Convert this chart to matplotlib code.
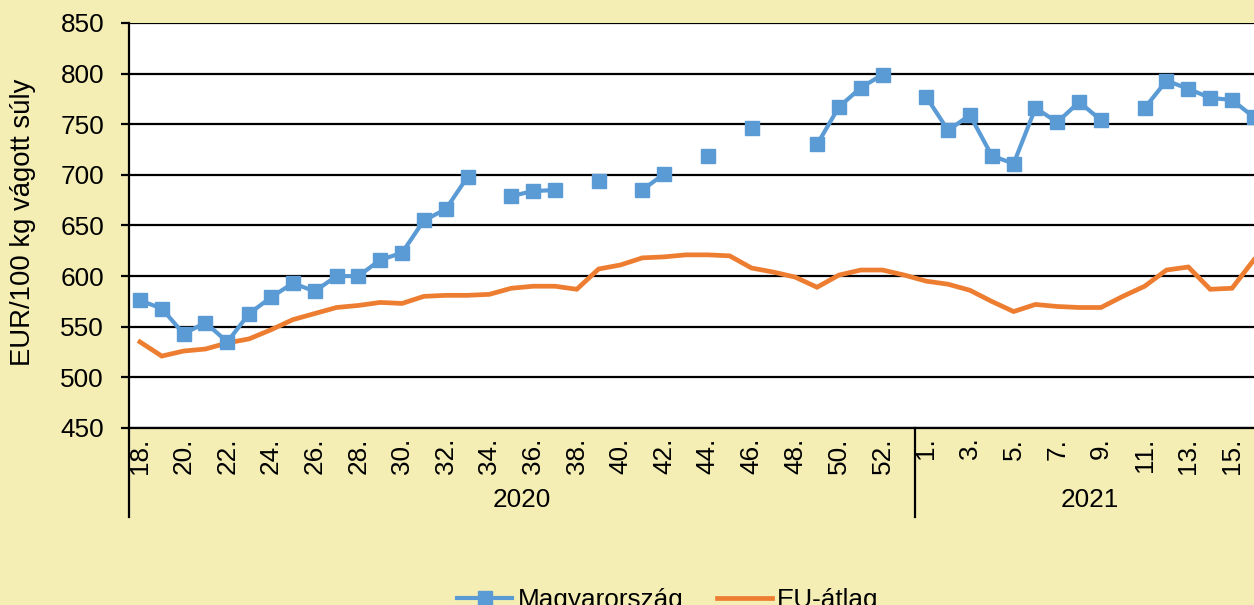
import numpy as np
import matplotlib
matplotlib.use("Agg")
import matplotlib.pyplot as plt
from matplotlib.lines import Line2D
import matplotlib.transforms as mtransforms

plt.rcParams['font.family'] = ['Liberation Sans', 'DejaVu Sans']

nan = np.nan

# Weeks shown on the category axis
weeks_2020 = list(range(18, 54))
weeks_2021 = list(range(1, 17))

# Hungarian pig price, EUR/100 kg carcass weight (gaps = no quotation)
hu_2020 = [576, 568, 543, 554, 535, 563, 579, 593, 585, 600, 600, 616, 623,
           655, 666, 698, nan, 679, 684, 685, nan, 694, nan, 685, 701, nan,
           719, nan, 746, nan, nan, 730, 767, 786, 799, nan]
hu_2021 = [777, 744, 759, 719, 711, 766, 752, 772, 754, nan, 766, 793, 785,
           776, 774, 757]

# EU average
eu_2020 = [535, 521, 526, 528, 534, 538, 547, 557, 563, 569, 571, 574, 573,
           580, 581, 581, 582, 588, 590, 590, 587, 607, 611, 618, 619, 621,
           621, 620, 608, 604, 599, 589, 601, 606, 606, 601]
eu_2021 = [595, 592, 586, 575, 565, 572, 570, 569, 569, 580, 590, 606, 609,
           587, 588, 616]

years = ["2020", "2021"]
series_names = ["Magyarország", "EU-átlag"]
y_label = "EUR/100 kg vágott súly"
y_ticks = [450, 500, 550, 600, 650, 700, 750, 800, 850]

bg = "#F4EEB4"
blue = "#5B9BD5"
orange = "#ED7D31"
fs = 18.8

hu = np.array(hu_2020 + hu_2021, dtype=float)
eu = np.array(eu_2020 + eu_2021, dtype=float)
n2020 = len(weeks_2020)
n = len(hu)
x = np.arange(n)

fig = plt.figure(figsize=(12.54, 6.05), dpi=100, facecolor=bg)
ax = fig.add_axes([0.1029, 0.2926, 0.9057, 0.6694])
ax.set_facecolor("white")

ax.set_ylim(450, 850)
ax.set_xlim(-0.5, n - 0.5)
ax.set_yticks(y_ticks)
ax.yaxis.grid(True, color="black", linewidth=1.6)
ax.set_axisbelow(True)

for s in ["top", "right"]:
    ax.spines[s].set_visible(False)
for s in ["left", "bottom"]:
    ax.spines[s].set_linewidth(1.6)
    ax.spines[s].set_color("black")

ax.plot(x, eu, color=orange, linewidth=3.4, solid_joinstyle="miter",
        label=series_names[1], zorder=3)
ax.plot(x, hu, color=blue, linewidth=3.0, marker="s", markersize=10,
        markeredgecolor=blue, markerfacecolor=blue, label=series_names[0],
        zorder=4)

# Category tick labels: every other week within each year
tick_pos = []
tick_lab = []
for i, w in enumerate(weeks_2020):
    if w % 2 == 0 and w != 53:
        tick_pos.append(i)
        tick_lab.append(f"{w}.")
for j, w in enumerate(weeks_2021):
    if w % 2 == 1:
        tick_pos.append(n2020 + j)
        tick_lab.append(f"{w}.")
ax.set_xticks(tick_pos)
ax.set_xticklabels(tick_lab, rotation=90, fontsize=fs, va="top", ha="center")
ax.tick_params(axis="x", length=0, pad=7)
ax.tick_params(axis="y", length=6, width=1.6, direction="out", pad=12,
               labelsize=fs)

# Year grouping level below the week labels
trans = mtransforms.blended_transform_factory(ax.transData, ax.transAxes)
for xb in [-0.5, n2020 - 0.5]:
    ax.add_line(Line2D([xb, xb], [0, -0.22], transform=trans, color="black",
                       linewidth=1.6, clip_on=False))
ax.text((n2020 - 1) / 2, -0.178, years[0], transform=trans, ha="center",
        va="center", fontsize=fs)
ax.text(n2020 + (len(weeks_2021) - 1) / 2, -0.178, years[1], transform=trans,
        ha="center", va="center", fontsize=fs)

fig.text(23.5 / 1254, 1 - 222.5 / 605, y_label, rotation=90, ha="center",
         va="center", fontsize=19.8)

handles, labels = ax.get_legend_handles_labels()
order = [1, 0]
fig.legend([handles[i] for i in order], [labels[i] for i in order],
           loc="center", bbox_to_anchor=(0.5327, 0.008), ncol=2,
           frameon=False, fontsize=fs, handlelength=2.1, handletextpad=0.2,
           columnspacing=1.3)

fig.savefig("out.png", dpi=100, facecolor=bg)
